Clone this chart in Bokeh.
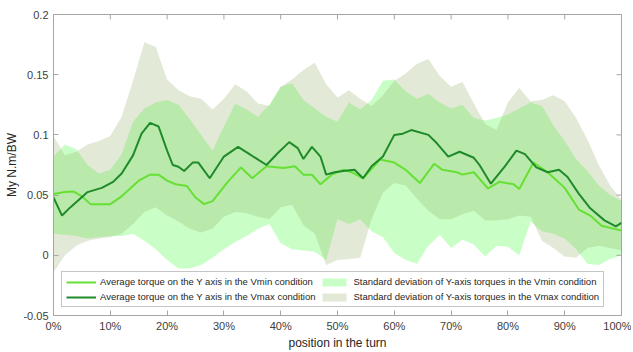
import math
from bokeh.plotting import figure
from bokeh.models import FixedTicker, Legend, LegendItem, Range1d
from bokeh.embed import file_html
from bokeh.resources import INLINE

# ---- data ----
# mean torque, Vmin condition
pos_vmin = [0, 2, 3.5, 5, 6.5, 10, 12, 15, 17, 18.5, 20, 21.5, 23.5, 25, 26.5, 28, 30.5, 33, 35, 37.5,
            40.5, 42.5, 44, 45.5, 47, 49, 51, 52.5, 54.5, 57.5, 60, 62, 64.5, 67, 68.5, 71, 72, 74,
            76.5, 78.5, 81, 82, 84.5, 87, 90, 92.5, 94.5, 96.5, 100]
mean_vmin = [0.051, 0.0525, 0.053, 0.049, 0.0425, 0.0425, 0.049, 0.062, 0.067, 0.067, 0.062, 0.059,
             0.0575, 0.048, 0.0425, 0.045, 0.060, 0.073, 0.064, 0.074, 0.0725, 0.074, 0.067, 0.067,
             0.059, 0.067, 0.071, 0.069, 0.064, 0.0795, 0.077, 0.071, 0.060, 0.076, 0.071, 0.069,
             0.067, 0.069, 0.0555, 0.061, 0.059, 0.055, 0.077, 0.069, 0.056, 0.038, 0.033, 0.0245, 0.0205]

# mean torque, Vmax condition
pos_vmax = [0, 1.5, 3, 6, 8.5, 10.5, 12, 14, 15.5, 17, 18.5, 20, 21, 22, 23, 24.5, 25.5, 27.5, 30, 32.5,
            34.5, 37.5, 39.5, 41.5, 43, 44, 45.5, 47, 48, 49.5, 51, 53, 54.5, 56, 58, 60, 61.5, 63, 66,
            67.5, 69.5, 71.5, 74, 75, 77, 79.5, 81.5, 83, 85, 87, 89, 90.5, 92.5, 94.5, 97, 99, 100]
mean_vmax = [0.048, 0.033, 0.040, 0.0525, 0.056, 0.061, 0.068, 0.083, 0.101, 0.110, 0.107, 0.087, 0.075,
             0.0735, 0.070, 0.077, 0.077, 0.064, 0.082, 0.090, 0.084, 0.075, 0.085, 0.094, 0.089, 0.080,
             0.090, 0.082, 0.067, 0.069, 0.070, 0.071, 0.064, 0.074, 0.082, 0.100, 0.101, 0.104, 0.100,
             0.093, 0.082, 0.086, 0.081, 0.075, 0.0595, 0.074, 0.087, 0.084, 0.073, 0.069, 0.071, 0.065,
             0.051, 0.039, 0.029, 0.024, 0.027]

# standard-deviation bands (upper / lower edges), sampled every 2 %
pos_band = list(range(0, 101, 2))
vmin_upper = [0.082, 0.092, 0.088, 0.075, 0.068, 0.071, 0.084, 0.111, 0.122, 0.127, 0.129, 0.125, 0.113,
              0.100, 0.087, 0.107, 0.126, 0.121, 0.115, 0.125, 0.140, 0.143, 0.129, 0.122, 0.115, 0.111,
              0.127, 0.121, 0.129, 0.145, 0.146, 0.136, 0.130, 0.134, 0.127, 0.122, 0.125, 0.114, 0.112,
              0.114, 0.117, 0.122, 0.127, 0.124, 0.108, 0.095, 0.080, 0.070, 0.058, 0.050, 0.045]
vmin_lower = [0.018, 0.017, 0.016, 0.014, 0.015, 0.016, 0.016, 0.018, 0.012, 0.005, -0.004, -0.011, -0.011,
              -0.008, -0.002, 0.005, 0.011, 0.016, 0.022, 0.026, 0.010, 0.005, 0.004, 0.003, -0.004, 0.030,
              0.026, 0.030, 0.020, 0.015, 0.002, -0.004, -0.007, 0.008, 0.017, 0.006, 0.013, 0.009, -0.001,
              0.008, 0.007, 0.000, 0.028, 0.020, 0.018, 0.014, 0.005, -0.007, -0.008, -0.003, 0.000]
vmax_upper = [0.099, 0.083, 0.086, 0.092, 0.095, 0.099, 0.115, 0.145, 0.177, 0.173, 0.146, 0.137, 0.132,
              0.130, 0.121, 0.130, 0.142, 0.136, 0.126, 0.124, 0.140, 0.146, 0.154, 0.160, 0.142, 0.131,
              0.137, 0.130, 0.124, 0.133, 0.145, 0.151, 0.159, 0.163, 0.149, 0.140, 0.144, 0.126, 0.109,
              0.104, 0.127, 0.139, 0.128, 0.129, 0.133, 0.128, 0.114, 0.096, 0.075, 0.058, 0.046]
vmax_lower = [-0.014, 0.000, 0.008, 0.012, 0.014, 0.015, 0.018, 0.026, 0.036, 0.040, 0.033, 0.028, 0.022,
              0.019, 0.022, 0.032, 0.036, 0.035, 0.032, 0.030, 0.040, 0.042, 0.025, 0.018, -0.008, -0.004,
              -0.003, -0.002, 0.030, 0.052, 0.060, 0.058, 0.047, 0.037, 0.030, 0.030, 0.034, 0.037, 0.029,
              0.029, 0.030, 0.033, 0.032, 0.012, 0.006, -0.001, -0.002, 0.006, 0.008, 0.006, 0.004]

x_ticks = [0, 10, 20, 30, 40, 50, 60, 70, 80, 90, 100]
x_tick_labels = ["0%", "10%", "20%", "30%", "40%", "50%", "60%", "70%", "80%", "90%", "100%"]
y_ticks = [-0.05, 0, 0.05, 0.1, 0.15, 0.2]
y_tick_labels = ["-0.05", "0", "0.05", "0.1", "0.15", "0.2"]
x_min, x_max = 0, 100
y_min, y_max = -0.05, 0.2

labels = ["Average torque on the Y axis in the Vmin condition",
          "Average torque on the Y axis in the Vmax condition",
          "Standard deviation of Y-axis torques in the Vmin condition",
          "Standard deviation of Y-axis torques in the Vmax condition"]

FONT = "Liberation Sans"
AX = "#a6a6a6"
TXT = "#404040"

p = figure(frame_width=568, frame_height=301,
           x_range=Range1d(x_min, x_max), y_range=Range1d(y_min, y_max),
           output_backend="svg", toolbar_location=None,
           min_border_left=53, min_border_right=10, min_border_top=14, min_border_bottom=34)
p.outline_line_color = AX
p.xgrid.visible = False
p.ygrid.visible = False
p.background_fill_color = "white"

r_sd_min = p.varea(x=pos_band, y1=vmin_lower, y2=vmin_upper, fill_color="#4bff44", fill_alpha=0.3)
r_sd_max = p.varea(x=pos_band, y1=vmax_lower, y2=vmax_upper, fill_color="#8faa61", fill_alpha=0.26)
r_min = p.line(pos_vmin, mean_vmin, line_color="#66e033", line_width=2)
r_max = p.line(pos_vmax, mean_vmax, line_color="#1e8a2a", line_width=2)

# mirrored inward ticks on the top and right edges of the box
p.scatter(x=x_ticks, y=[y_max] * len(x_ticks), marker="dash", size=10, angle=math.pi / 2,
          line_color=AX, line_width=1)
p.scatter(x=[x_max] * len(y_ticks), y=y_ticks, marker="dash", size=10,
          line_color=AX, line_width=1)

def style_axis(ax):
    ax.axis_line_color = AX
    ax.major_tick_line_color = AX
    ax.minor_tick_line_color = None
    ax.major_tick_in = 5
    ax.major_tick_out = 0
    ax.major_label_text_font = FONT
    ax.major_label_text_font_size = "11px"
    ax.major_label_text_color = TXT
    ax.axis_label_text_font = FONT
    ax.axis_label_text_font_size = "12px"
    ax.axis_label_text_font_style = "normal"
    ax.axis_label_text_color = "#262626"

xa = p.xaxis[0]
xa.ticker = FixedTicker(ticks=x_ticks)
xa.major_label_overrides = {t: s for t, s in zip(x_ticks, x_tick_labels)}
xa.axis_label = "position in the turn"
xa.major_label_standoff = 4
xa.axis_label_standoff = 1
style_axis(xa)

ya = p.yaxis[0]
ya.ticker = FixedTicker(ticks=y_ticks)
ya.major_label_overrides = {t: s for t, s in zip(y_ticks, y_tick_labels)}
ya.axis_label = "My N.m/BW"
ya.major_label_standoff = 5
ya.axis_label_standoff = 1
style_axis(ya)

legend = Legend(items=[LegendItem(label=labels[0], renderers=[r_min]),
                       LegendItem(label=labels[1], renderers=[r_max]),
                       LegendItem(label=labels[2], renderers=[r_sd_min]),
                       LegendItem(label=labels[3], renderers=[r_sd_max])],
                location=(8, 8), orientation="vertical", ncols=2)
legend.margin = 0
legend.padding = 4
legend.spacing = 4
legend.glyph_width = 30
legend.glyph_height = 10
legend.label_standoff = 4
legend.label_height = 10
legend.label_text_font = FONT
legend.label_text_font_size = "9.5px"
legend.label_text_color = "#262626"
legend.border_line_color = "#8c8c8c"
legend.border_line_width = 1
legend.background_fill_alpha = 1
p.add_layout(legend)

open("out.html", "w").write(file_html(p, INLINE))
